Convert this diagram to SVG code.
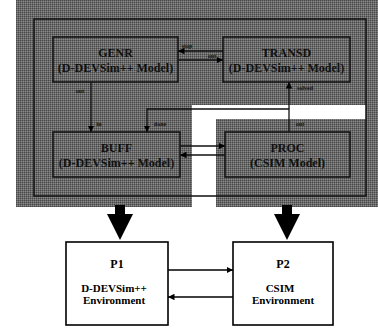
<svg xmlns="http://www.w3.org/2000/svg" width="378" height="328" viewBox="0 0 378 328">
<defs>
<pattern id="dots" width="2" height="2" patternUnits="userSpaceOnUse">
<rect width="2" height="2" fill="#6a6a6a"/>
<rect width="1" height="1" fill="#474747"/>
<rect x="1" y="1" width="1" height="1" fill="#8a8a8a"/>
</pattern>
<marker id="ah" viewBox="0 0 10 10" refX="10" refY="5" markerWidth="5" markerHeight="5" orient="auto">
<path d="M0,0 L10,5 L0,10 Z" fill="#000"/>
</marker>
</defs>
<style>
.bg{fill:url(#dots);}
.frame{fill:none;stroke:#111;stroke-width:1.5;}
.model{fill:none;stroke:#111;stroke-width:1.5;}
.mt{font-family:"Liberation Serif",serif;font-weight:bold;font-size:12px;fill:#111;text-anchor:middle;}
.port{font-family:"Liberation Serif",serif;font-weight:bold;font-size:6px;fill:#111;text-anchor:middle;}
.con{fill:none;stroke:#111;stroke-width:1.3;}
.box{fill:#fff;stroke:#000;stroke-width:1.6;}
.bt{font-family:"Liberation Serif",serif;font-weight:bold;font-size:11px;fill:#000;text-anchor:middle;}
.bp{font-family:"Liberation Serif",serif;font-weight:bold;font-size:12px;fill:#000;text-anchor:middle;}
.link{fill:none;stroke:#000;stroke-width:1.3;}
</style>
<rect width="378" height="328" fill="#fff"/>
<path class="bg" d="M16,0 H378 V207 H216 V119 H366 V105 H192 V207 H16 Z"/>
<rect class="frame" x="34" y="19" width="332" height="177"/>

<g id="genr">
<rect class="model" x="53" y="37" width="125" height="45"/>
<text class="mt" x="115.5" y="57">GENR</text>
<text class="mt" x="115.5" y="72">(D-DEVSim++ Model)</text>
</g>
<g id="transd">
<rect class="model" x="223" y="37" width="127" height="45"/>
<text class="mt" x="286.5" y="57">TRANSD</text>
<text class="mt" x="286.5" y="72">(D-DEVSim++ Model)</text>
</g>
<g id="buff">
<rect class="model" x="53" y="132" width="127" height="45"/>
<text class="mt" x="116.5" y="152">BUFF</text>
<text class="mt" x="116.5" y="167">(D-DEVSim++ Model)</text>
</g>
<g id="proc">
<rect class="model" x="225" y="132" width="125" height="45"/>
<text class="mt" x="287.5" y="152">PROC</text>
<text class="mt" x="287.5" y="167">(CSIM Model)</text>
</g>

<g id="connectors">
<line class="con" x1="223" y1="51" x2="178" y2="51" marker-end="url(#ah)"/>
<line class="con" x1="178" y1="60" x2="223" y2="60" marker-end="url(#ah)"/>
<line class="con" x1="91" y1="82" x2="91" y2="132" marker-end="url(#ah)"/>
<polyline class="con" points="289,132 289,109 147,109 147,132" marker-end="url(#ah)"/>
<line class="con" x1="289" y1="109" x2="289" y2="82" marker-end="url(#ah)"/>
<line class="con" x1="180" y1="146" x2="225" y2="146" marker-end="url(#ah)"/>
<line class="con" x1="225" y1="155" x2="180" y2="155" marker-end="url(#ah)"/>
<text class="port" x="187" y="48">stop</text>
<text class="port" x="212" y="58">out</text>
<text class="port" x="80" y="93">out</text>
<text class="port" x="99" y="126">in</text>
<text class="port" x="160" y="126">done</text>
<text class="port" x="305" y="90">solved</text>
<text class="port" x="300" y="126">out</text>

<rect x="115" y="205" width="10" height="10" fill="#000"/>
<polygon points="107,214 133,214 120,240" fill="#000"/>
<rect x="282" y="205" width="10" height="10" fill="#000"/>
<polygon points="274,214 300,214 287,240" fill="#000"/>
<line class="link" x1="168" y1="270" x2="233" y2="270" marker-end="url(#ah)"/>
<line class="link" x1="233" y1="297" x2="168" y2="297" marker-end="url(#ah)"/>
</g>

<g id="p1">
<rect class="box" x="66" y="242" width="102" height="83"/>
<text class="bp" x="117" y="268">P1</text>
<text class="bt" x="114" y="292">D-DEVSim++</text>
<text class="bt" x="114" y="304">Environment</text>
</g>
<g id="p2">
<rect class="box" x="233" y="242" width="100" height="83"/>
<text class="bp" x="283" y="268">P2</text>
<text class="bt" x="280" y="292">CSIM</text>
<text class="bt" x="283" y="304">Environment</text>
</g>
</svg>
